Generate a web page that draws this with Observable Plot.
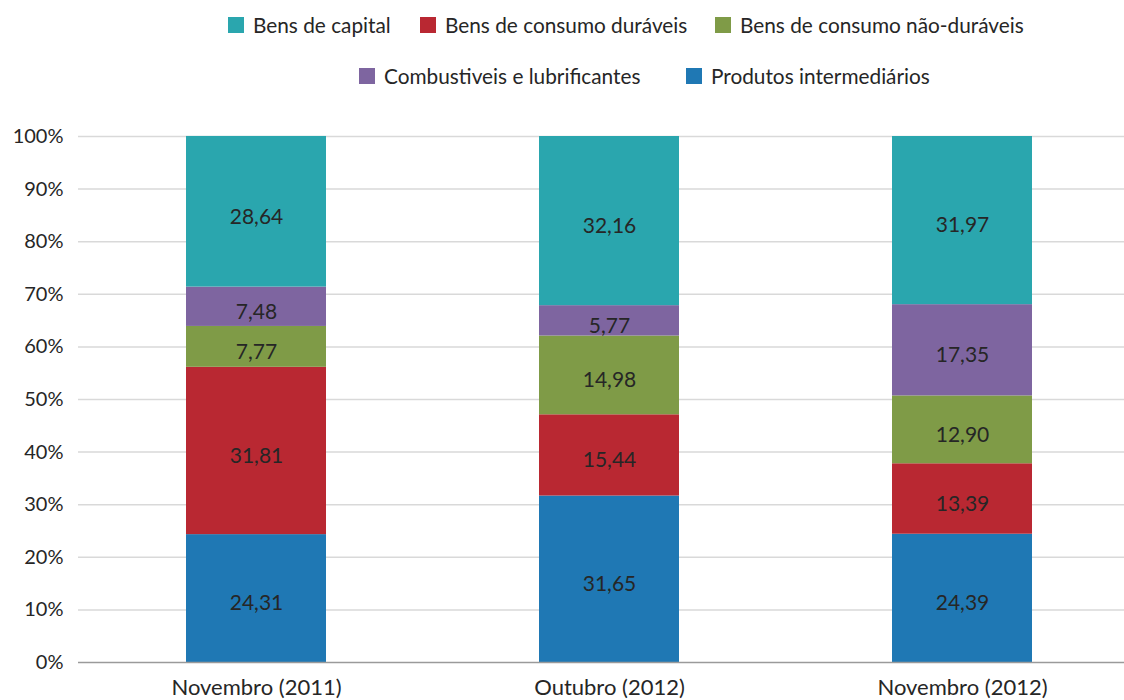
<!DOCTYPE html>
<html>
<head>
<meta charset="utf-8">
<script src="https://cdn.jsdelivr.net/npm/d3@7"></script>
<script src="https://cdn.jsdelivr.net/npm/@observablehq/plot@0.6"></script>
<style>
  body { margin: 0; background: #fff; font-family: Lato, "Open Sans", sans-serif; color: #262626; }
  #legend { height: 110px; position: relative; }
  .item { position: absolute; display: flex; align-items: center; font-size: 20.8px; line-height: 26px; white-space: nowrap; }
  .sw { width: 16px; height: 16px; margin-right: 9px; display: inline-block; }
</style>
</head>
<body>
<div id="legend"></div>
<div id="chart"></div>
<script>
const periods = ["Novembro (2011)", "Outubro (2012)", "Novembro (2012)"];
const seriesNames = ["Produtos intermediários", "Bens de consumo duráveis", "Bens de consumo não-duráveis", "Combustiveis e lubrificantes", "Bens de capital"];
const seriesColors = ["#1f78b4", "#b92832", "#7f9b47", "#7e65a0", "#2aa6ae"];
const produtosIntermediarios = [24.31, 31.65, 24.39];
const bensConsumoDuraveis = [31.81, 15.44, 13.39];
const bensConsumoNaoDuraveis = [7.77, 14.98, 12.90];
const combustiveis = [7.48, 5.77, 17.35];
const bensCapital = [28.64, 32.16, 31.97];
const yTicks = [0, 10, 20, 30, 40, 50, 60, 70, 80, 90, 100];
const legendRows = [
  ["Bens de capital", "Bens de consumo duráveis", "Bens de consumo não-duráveis"],
  ["Combustiveis e lubrificantes", "Produtos intermediários"]
];
// legend layout (pixel positions of each entry)
const legendLeft = [[228, 420, 715], [359, 686]];
const legendTop = [12, 63];

const seriesValues = [produtosIntermediarios, bensConsumoDuraveis, bensConsumoNaoDuraveis, combustiveis, bensCapital];
const data = [];
periods.forEach((p, i) => {
  seriesNames.forEach((s, j) => {
    data.push({period: p, series: s, value: seriesValues[j][i]});
  });
});

// legend
const legend = document.getElementById("legend");
legendRows.forEach((row, ri) => {
  row.forEach((name, ci) => {
    const it = document.createElement("div");
    it.className = "item";
    it.style.left = legendLeft[ri][ci] + "px";
    it.style.top = legendTop[ri] + "px";
    const sw = document.createElement("span");
    sw.className = "sw";
    sw.style.background = seriesColors[seriesNames.indexOf(name)];
    it.appendChild(sw);
    it.appendChild(document.createTextNode(name));
    legend.appendChild(it);
  });
});

const chart = Plot.plot({
  width: 1124,
  height: 590,
  marginTop: 26,
  marginBottom: 38,
  marginLeft: 78,
  marginRight: 0,
  style: {fontFamily: "Lato, 'Open Sans', sans-serif", fontSize: "20px", color: "#262626", background: "#fff", overflow: "visible"},
  x: {domain: periods, range: [79.5, 1138.5], paddingInner: 0.603, paddingOuter: 0.3, label: null},
  y: {domain: [0, 100], label: null},
  color: {domain: seriesNames, range: seriesColors},
  marks: [
    Plot.ruleY(yTicks.filter(d => d > 0), {stroke: "#d9d9d9", strokeWidth: 1.5}),
    Plot.barY(data, Plot.stackY({x: "period", y: "value", fill: "series", order: null})),
    Plot.text(data, Plot.stackY({x: "period", y: "value", order: null, text: d => d.value.toFixed(2).replace(".", ","), fontSize: 21, dy: 5, fill: "#262626"})),
    Plot.ruleY([0], {stroke: "#9a9a9a", strokeWidth: 1.5}),
    Plot.axisY({ticks: yTicks, tickFormat: d => d + "%", tickSize: 0, tickPadding: 15, fontSize: 20, label: null}),
    Plot.axisX({tickSize: 0, tickPadding: 17, fontSize: 22, label: null})
  ]
});
document.getElementById("chart").appendChild(chart);
</script>
</body>
</html>
